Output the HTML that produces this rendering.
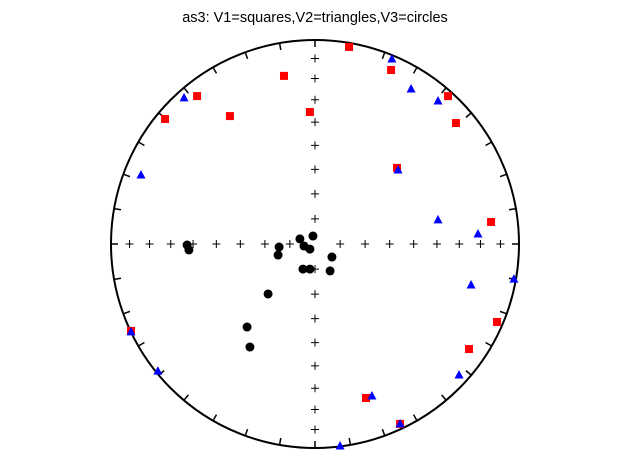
<!DOCTYPE html>
<html><head><meta charset="utf-8"><style>body{margin:0;background:#fff}svg{display:block}</style></head>
<body>
<svg id="chart" width="630" height="470" xmlns="http://www.w3.org/2000/svg" font-family="'Liberation Sans', 'DejaVu Sans', sans-serif">
<text x="315" y="22" text-anchor="middle" font-size="14.5">as3: V1=squares,V2=triangles,V3=circles</text>
<g id="net"></g>
<g id="marks"></g>
</svg>
<script>
const sqX=[.167,.373,.652,.691,.402,.863,.892,.755,.25,.417,-.902,-.735,-.578,-.417,-.152,-.025];
const sqY=[.966,.853,.725,.593,.373,.108,-.382,-.515,-.755,-.882,-.426,.613,.725,.627,.824,.647];
const trX=[.377,.471,.603,.407,.603,.799,.975,.765,.706,.279,.417,.123,-.902,-.770,-.853,-.642];
const trY=[.907,.760,.701,.363,.118,.049,-.172,-.201,-.642,-.745,-.882,-.990,-.431,-.623,.338,.716];
const ciX=[-.074,-.010,-.054,-.025,-.176,-.181,.083,.074,-.059,-.025,-.627,-.618,-.230,-.333,-.319];
const ciY=[.025,.039,-.010,-.025,-.015,-.054,-.064,-.132,-.123,-.123,-.005,-.029,-.245,-.407,-.505];
const incTicks=[10,20,30,40,50,60,70,80];
const NS="http://www.w3.org/2000/svg";
const cx=315,cy=244,R=204;
const sx=v=>cx+v*R, sy=v=>cy-v*R;
function mk(t,a,p){const e=document.createElementNS(NS,t);for(const k in a)e.setAttribute(k,a[k]);p.appendChild(e);return e;}
const net=document.getElementById('net'),marks=document.getElementById('marks');
const c=mk('circle',{cx:cx,cy:cy,r:R,fill:'none',stroke:'#000','stroke-width':2},net);


for(let a=0;a<360;a+=10){const t=a*Math.PI/180;const s=Math.sin(t),co=Math.cos(t);
 const l=mk('line',{x1:cx+R*s,y1:cy-R*co,x2:cx+(R-7)*s,y2:cy-(R-7)*co,stroke:'#000','stroke-width':1.5},net);
 
 }
incTicks.forEach(inc=>{const r=Math.SQRT2*Math.sin((90-inc)/2*Math.PI/180);
 [[r,0],[-r,0],[0,r],[0,-r]].forEach(([x,y])=>{const X=sx(x),Y=sy(y);
  const g=mk('path',{d:`M${X-4},${Y}H${X+4}M${X},${Y-4}V${Y+4}`,stroke:'#000','stroke-width':1},net);
  
  });});
sqX.forEach((x,i)=>{const e=mk('rect',{x:sx(x)-4,y:sy(sqY[i])-4,width:8,height:8,fill:'red'},marks);
 
 });
trX.forEach((x,i)=>{const X=sx(x),Y=sy(trY[i]);const e=mk('polygon',{points:`${X},${Y-5} ${X-4.5},${Y+3.5} ${X+4.5},${Y+3.5}`,fill:'blue'},marks);
 
 });
ciX.forEach((x,i)=>{const e=mk('circle',{cx:sx(x),cy:sy(ciY[i]),r:4.5,fill:'#000'},marks);
 
 });
</script>
</body></html>
